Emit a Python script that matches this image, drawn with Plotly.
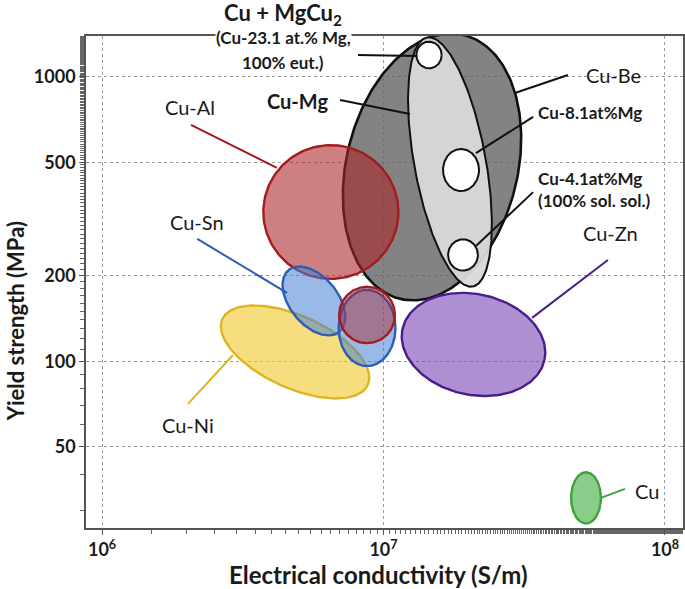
import math
import numpy as np
import plotly.graph_objects as go

# ---------------- data ----------------
# property envelopes: centre (conductivity S/m, yield strength MPa),
# half-spread along major/minor axes (decades), tilt (deg)
region_names = ["Cu-Be", "Cu-Mg", "Cu-Al", "Cu-Ni", "Cu-Sn", "Cu-Sn (2)",
                "Cu-Al (2)", "Cu-Zn", "Cu",
                "Cu + MgCu2", "Cu-8.1at%Mg", "Cu-4.1at%Mg"]
center_cond = [1.487e7, 1.722e7, 6.50e6, 4.85e6, 5.66e6, 8.74e6,
               8.74e6, 2.088e7, 5.24e7,
               1.451e7, 1.885e7, 1.916e7]
center_strength = [481.6, 501.5, 334.6, 107.8, 162.9, 130.9,
                   145.4, 114.6, 33.1,
                   1192.0, 470.0, 236.3]
spread_major = [0.477, 0.445, 0.240, 0.283, 0.141, 0.101,
                0.099, 0.258, 0.053,
                0.045, 0.064, 0.053]
spread_minor = [0.304, 0.127, 0.235, 0.127, 0.085, 0.134,
                0.099, 0.177, 0.090,
                0.047, 0.074, 0.055]
tilt_deg = [76, 100.5, 0, -24, -50, 0,
            0, -12, 0,
            0, 0, 0]

# leader lines: (conductivity, strength) start -> end
leader_names = ["Cu + MgCu2", "Cu-Mg", "Cu-Be", "Cu-8.1at%Mg", "Cu-4.1at%Mg",
                "Cu-Zn", "Cu-Al", "Cu-Sn", "Cu-Ni", "Cu"]
leader_cond_start = [8.12e6, 7.01e6, 4.52e7, 3.40e7, 3.40e7, 6.27e7, 2.07e6, 2.18e6, 2.02e6, 7.21e7]
leader_str_start = [1192, 828, 1014, 722, 393, 227, 677, 269, 70.8, 35.6]
leader_cond_end = [1.315e7, 1.242e7, 2.93e7, 2.13e7, 2.13e7, 3.37e7, 4.18e6, 4.54e6, 2.92e6, 5.92e7]
leader_str_end = [1182, 739, 876, 539, 254, 142, 478, 174, 105.2, 33.1]

# labels
label_texts = ["Cu + MgCu<sub>2</sub>", "(Cu-23.1 at.% Mg,", "100% eut.)", "Cu-Mg", "Cu-Be",
               "Cu-8.1at%Mg", "Cu-4.1at%Mg<br>(100% sol. sol.)", "Cu-Zn", "Cu-Al",
               "Cu-Sn", "Cu-Ni", "Cu"]
label_cond = [4.40e6, 4.40e6, 4.40e6, 4.93e6, 6.54e7, 3.51e7, 3.51e7, 6.38e7, 2.05e6,
              2.18e6, 2.02e6, 8.63e7]
label_strength = [1661, 1368, 1126, 821, 1014, 746, 403, 282, 783, 309, 59.7, 35.0]

x_title = "Electrical conductivity (S/m)"
y_title = "Yield strength (MPa)"
x_tickvals = [1e6, 1e7, 1e8]
x_ticktext = ["10<sup>6</sup>", "10<sup>7</sup>", "10<sup>8</sup>"]
y_tickvals = [50, 100, 200, 500, 1000]
y_ticktext = ["50", "100", "200", "500", "1000"]

X_RANGE = [5.943, 8.064]
Y_RANGE = [1.414, 3.143]

# ---------------- styles ----------------
styles = {
    "Cu-Be": dict(fill="rgba(100,100,100,0.8)", line="#111111", w=2.6),
    "Cu-Mg": dict(fill="rgba(217,217,217,0.95)", line="#111111", w=2.0),
    "Cu-Al": dict(fill="rgba(170,35,40,0.58)", line="#a41b1f", w=2.4),
    "Cu-Ni": dict(fill="rgba(240,200,40,0.6)", line="#dfb422", w=2.4),
    "Cu-Sn": dict(fill="rgba(70,130,210,0.55)", line="#2d5cb5", w=2.4),
    "Cu-Sn (2)": dict(fill="rgba(70,130,210,0.55)", line="#2d5cb5", w=2.4),
    "Cu-Al (2)": dict(fill="rgba(170,35,40,0.45)", line="#a41b1f", w=2.4),
    "Cu-Zn": dict(fill="rgba(120,70,180,0.6)", line="#4a1d8c", w=2.4),
    "Cu": dict(fill="rgba(60,170,60,0.6)", line="#3fa23f", w=2.4),
    "Cu + MgCu2": dict(fill="white", line="#111111", w=2.0),
    "Cu-8.1at%Mg": dict(fill="white", line="#111111", w=2.0),
    "Cu-4.1at%Mg": dict(fill="white", line="#111111", w=2.0),
}
leader_colors = ["#111111", "#111111", "#111111", "#111111", "#111111",
                 "#4a1d8c", "#a41b1f", "#2d5cb5", "#dfb422", "#3fa23f"]
label_fonts = [
    dict(size=22, bold=True), dict(size=17, bold=True), dict(size=17, bold=True),
    dict(size=20, bold=True), dict(size=20, bold=False), dict(size=17, bold=True),
    dict(size=17, bold=True), dict(size=20, bold=False), dict(size=20, bold=False),
    dict(size=20, bold=False), dict(size=20, bold=False), dict(size=20, bold=False),
]
label_anchor = ["center"] * 5 + ["left", "left"] + ["center"] * 5
FONT = "Lato"
INK = "#1a1a1a"


def ellipse(cx, cy, a, b, ang, n=241):
    t = np.linspace(0, 2 * np.pi, n)
    p = math.radians(ang)
    dx = a * np.cos(t) * math.cos(p) - b * np.sin(t) * math.sin(p)
    dy = a * np.cos(t) * math.sin(p) + b * np.sin(t) * math.cos(p)
    return 10 ** (math.log10(cx) + dx), 10 ** (math.log10(cy) + dy)


def to_paper(v, rng):
    return (math.log10(v) - rng[0]) / (rng[1] - rng[0])


fig = go.Figure()

draw_order = ["Cu-Be", "Cu-Mg", "Cu + MgCu2", "Cu-8.1at%Mg", "Cu-4.1at%Mg",
              "Cu-Al", "Cu-Ni", "Cu-Sn", "Cu-Sn (2)", "Cu-Al (2)", "Cu-Zn", "Cu"]
for name in draw_order:
    i = region_names.index(name)
    xs, ys = ellipse(center_cond[i], center_strength[i], spread_major[i],
                     spread_minor[i], tilt_deg[i])
    st = styles[name]
    fig.add_trace(go.Scatter(x=xs, y=ys, mode="lines", fill="toself",
                             fillcolor=st["fill"],
                             line=dict(color=st["line"], width=st["w"]),
                             hoverinfo="skip", showlegend=False))

for i in range(len(leader_names)):
    fig.add_trace(go.Scatter(x=[leader_cond_start[i], leader_cond_end[i]],
                             y=[leader_str_start[i], leader_str_end[i]],
                             mode="lines", line=dict(color=leader_colors[i], width=2),
                             hoverinfo="skip", showlegend=False))

for i, txt in enumerate(label_texts):
    f = label_fonts[i]
    kw = {}
    if i in (1, 2):
        kw["bgcolor"] = "white"
    fig.add_annotation(x=to_paper(label_cond[i], X_RANGE),
                       y=to_paper(label_strength[i], Y_RANGE),
                       xref="paper", yref="paper", text=txt, showarrow=False,
                       xanchor=label_anchor[i], yanchor="middle",
                       align="left" if label_anchor[i] == "left" else "center",
                       borderpad=0,
                       font=dict(family=FONT, size=f["size"], color=INK,
                                 weight="bold" if f["bold"] else "normal"),
                       **kw)

# axis titles (placed as annotations in paper space)
fig.add_annotation(x=0.49, y=-0.095, xref="paper", yref="paper", text=x_title,
                   showarrow=False, xanchor="center", yanchor="middle",
                   font=dict(family=FONT, size=24, color=INK, weight="bold"))
fig.add_annotation(x=-0.119, y=0.42, xref="paper", yref="paper", text=y_title,
                   showarrow=False, xanchor="center", yanchor="middle", textangle=-90,
                   font=dict(family=FONT, size=22, color=INK, weight="bold"))

fig.update_xaxes(type="log", range=X_RANGE,
                 tickvals=x_tickvals, ticktext=x_ticktext,
                 tickfont=dict(family=FONT, size=18, color=INK, weight="bold"),
                 ticks="outside", ticklen=5, tickcolor="#555",
                 minor=dict(ticks="outside", ticklen=4, tickcolor="#666", showgrid=False),
                 showgrid=True, gridcolor="#9a9a9a", griddash="dot", gridwidth=1,
                 showline=True, linecolor="#555", linewidth=1.6, mirror=True,
                 zeroline=False)
fig.update_yaxes(type="log", range=Y_RANGE,
                 tickvals=y_tickvals, ticktext=y_ticktext,
                 tickfont=dict(family=FONT, size=18, color=INK, weight="bold"),
                 ticks="outside", ticklen=5, tickcolor="#555",
                 minor=dict(ticks="outside", ticklen=4, tickcolor="#666", showgrid=False),
                 showgrid=True, gridcolor="#9a9a9a", griddash="dot", gridwidth=1,
                 showline=True, linecolor="#555", linewidth=1.6, mirror=True,
                 zeroline=False)

fig.update_layout(width=685, height=589,
                  margin=dict(l=86, r=2, t=36, b=61, autoexpand=False),
                  plot_bgcolor="white", paper_bgcolor="white",
                  showlegend=False)

fig.write_html("out.html", config={"displayModeBar": False},
               post_script="document.body.style.margin='0';")
